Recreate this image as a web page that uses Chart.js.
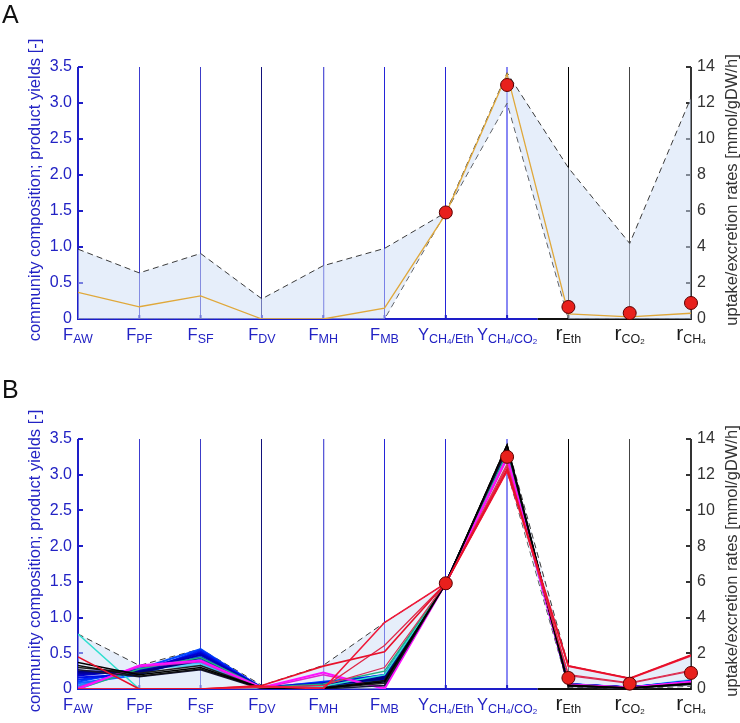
<!DOCTYPE html>
<html><head><meta charset="utf-8">
<script src="https://cdn.jsdelivr.net/npm/chart.js@4.4.1/dist/chart.umd.min.js"></script>
<style>
html,body{margin:0;padding:0;background:#fff;}
#wrap{position:relative;width:740px;height:723px;overflow:hidden;}
canvas{position:absolute;left:0;}
</style></head><body>
<div id="wrap">
<canvas id="cA" width="740" height="371" style="top:0px"></canvas>
<canvas id="cB" width="740" height="352" style="top:371px"></canvas>
</div>
<script>
// ---------- categories / tick labels ----------
const labelMain = ['F','F','F','F','F','F','Y','Y','r','r','r'];
const labelSub  = ['AW','PF','SF','DV','MH','MB','CH4/Eth','CH4/CO2','Eth','CO2','CH4'];
const leftTickLabels  = ['0','0.5','1.0','1.5','2.0','2.5','3.0','3.5'];
const rightTickLabels = ['0','2','4','6','8','10','12','14'];
const leftMax = 3.5, rightMax = 14;

// ---------- data (first 8 values dimensionless, last 3 in mmol/gDW/h) ----------
// Panel A
const upperA    = [0.97, 0.64, 0.91, 0.28, 0.74, 0.98, 1.48, 3.42, 8.4, 4.2, 12.3];
const lowerA    = [0, 0, 0, 0, 0, 0, 1.48, 3.00, 0, 0, 0];
const optimumA  = [0.37, 0.17, 0.32, 0, 0, 0.15, 1.46, 3.40, 0.28, 0.12, 0.32];
const measuredA = [null, null, null, null, null, null, 1.48, 3.25, 0.67, 0.33, 0.89];

// Panel B
const upperB    = [0.77, 0.33, 0.56, 0.05, 0.33, 0.93, 1.48, 3.43, 1.30, 0.60, 1.90];
const lowerB    = [0, 0, 0, 0, 0, 0, 1.48, 3.05, 0.10, 0.02, 0.15];
const measuredB = [null, null, null, null, null, null, 1.48, 3.25, 0.62, 0.30, 0.90];

const red1 = [0.45, 0, 0, 0.05, 0.32, 0.52, 1.48, 3.08, 1.30, 0.60, 1.90];
const red2 = [0, 0, 0, 0.04, 0.00, 0.93, 1.48, 3.05, 1.27, 0.58, 1.86];
const red3 = [0, 0, 0, 0.03, 0.02, 0.61, 1.48, 3.12, 0.80, 0.35, 1.05];
const red4 = [0, 0, 0, 0.02, 0.05, 0.30, 1.48, 3.15, 0.75, 0.32, 1.00];
const black1 = [0.37, 0.20, 0.30, 0.01, 0.01, 0.10, 1.48, 3.42, 0.20, 0.05, 0.30];
const black2 = [0.33, 0.18, 0.28, 0.01, 0.02, 0.12, 1.48, 3.41, 0.18, 0.05, 0.28];
const black3 = [0.30, 0.22, 0.33, 0.01, 0.01, 0.08, 1.48, 3.40, 0.22, 0.06, 0.32];
const black4 = [0.27, 0.17, 0.27, 0.00, 0.00, 0.05, 1.48, 3.38, 0.15, 0.04, 0.25];
const magenta1 = [0, 0.33, 0.40, 0.02, 0.23, 0.00, 1.48, 3.25, 0.25, 0.08, 0.40];
const magenta2 = [0.02, 0.31, 0.38, 0.01, 0.20, 0.02, 1.48, 3.22, 0.24, 0.08, 0.38];
const green1 = [0.00, 0.28, 0.44, 0.02, 0.07, 0.25, 1.48, 3.30, 0.25, 0.08, 0.36];
const cyan1  = [0.77, 0, 0, 0, 0.04, 0.20, 1.48, 3.28, 0.26, 0.09, 0.42];
const blue1  = [0.25, 0.24, 0.40, 0.02, 0.05, 0.15, 1.48, 3.36, 0.25, 0.08, 0.35];
const blue2  = [0.23, 0.22, 0.44, 0.01, 0.06, 0.17, 1.48, 3.35, 0.24, 0.07, 0.36];
const blue3  = [0.21, 0.25, 0.48, 0.02, 0.07, 0.14, 1.48, 3.34, 0.26, 0.08, 0.38];
const blue4  = [0.19, 0.27, 0.50, 0.01, 0.08, 0.18, 1.48, 3.33, 0.27, 0.09, 0.40];
const blue5  = [0.16, 0.21, 0.52, 0.01, 0.06, 0.20, 1.48, 3.32, 0.25, 0.08, 0.42];
const blue6  = [0.13, 0.23, 0.54, 0.02, 0.09, 0.16, 1.48, 3.31, 0.28, 0.09, 0.44];
const blue7  = [0.10, 0.28, 0.56, 0.01, 0.10, 0.19, 1.48, 3.30, 0.27, 0.10, 0.45];
const blue8  = [0.08, 0.20, 0.46, 0.02, 0.05, 0.12, 1.48, 3.30, 0.24, 0.08, 0.40];
const blue9  = [0.05, 0.26, 0.42, 0.01, 0.07, 0.14, 1.48, 3.28, 0.25, 0.08, 0.42];
const blue10 = [0.03, 0.30, 0.38, 0.01, 0.06, 0.16, 1.48, 3.27, 0.26, 0.09, 0.46];
const blue11 = [0.01, 0.32, 0.36, 0.01, 0.04, 0.10, 1.48, 3.26, 0.24, 0.08, 0.48];
const blue12 = [0.00, 0.29, 0.33, 0.00, 0.05, 0.12, 1.48, 3.25, 0.25, 0.09, 0.50];

// drawing order: first is on top
const linesB = [red1, red2, red3, red4, black1, black2, black3, black4, magenta1, magenta2,
                green1, cyan1, blue1, blue2, blue3, blue4, blue5, blue6, blue7, blue8, blue9, blue10, blue11, blue12];
const linesBColors = ['#e8102a','#f01838','#e02848','#d8305a','#000000','#101010','#202020','#181838','#ff10ff','#e020d0',
                      '#20b080','#30e0d0','#000080','#00009a','#0000b4','#0000d0','#0010e8','#0028f8','#0048ff','#1068ff','#2088ff','#30a8ff','#40c0f8','#50d0f0'];
const linesBWidths = [1.6,1.6,1.2,1.2,1.5,1.5,1.5,1.5,2,1.5,1.5,1.5,2,2,2,2,2,2,2,2,2,2,2,2];

// ---------- styling ----------
const FONT = '"Liberation Sans", Arial, Helvetica, sans-serif';
Chart.defaults.font.family = FONT;
const BLUE = '#1e1ec8';
const vLineColors = ['#1e1ec8','#3c3cd0','#3c3cc8','#12127a','#5a5ad8','#2424d8','#2424d8','#8888f4','#000000','#444444','#333333'];
const vLineWidths = [1,1,1,1,1.3,1,1,2,1,1,1];

const rateToLeft = leftMax / rightMax;
function toPlot(arr) {
  const out = [];
  arr.forEach((v, i) => { if (v !== null) out.push({x: i, y: (i >= 8 ? v * rateToLeft : v)}); });
  return out;
}

function line(ctx, x1, y1, x2, y2) { ctx.beginPath(); ctx.moveTo(x1, y1); ctx.lineTo(x2, y2); ctx.stroke(); }

const decor = {
  id: 'decor',
  beforeDatasetsDraw(chart) {
    const {ctx, chartArea: ca, scales} = chart;
    const xs = scales.x, yl = scales.y, yr = scales.y1;
    ctx.save();
    ctx.lineWidth = 2;
    ctx.strokeStyle = BLUE;
    line(ctx, ca.left, ca.top, ca.left, ca.bottom + 1);
    yl.ticks.forEach(t => { const y = Math.round(yl.getPixelForValue(t.value)); line(ctx, ca.left, y, ca.left + 5, y); });
    ctx.strokeStyle = '#333';
    line(ctx, ca.right, ca.top, ca.right, ca.bottom + 1);
    yr.ticks.forEach(t => { const y = Math.round(yr.getPixelForValue(t.value)); line(ctx, ca.right - 5, y, ca.right, y); });
    const split = (xs.getPixelForValue(7) + xs.getPixelForValue(8)) / 2;
    ctx.strokeStyle = BLUE;
    line(ctx, ca.left, ca.bottom, split, ca.bottom);
    ctx.strokeStyle = '#111';
    line(ctx, split, ca.bottom, ca.right, ca.bottom);
    for (let i = 1; i < 10; i++) {
      const x = xs.getPixelForValue(i);
      ctx.strokeStyle = i < 8 ? BLUE : '#111';
      line(ctx, x, ca.bottom, x, ca.bottom - 4);
    }
    ctx.restore();
  },
  afterDraw(chart, args, opts) {
    const {ctx, chartArea: ca, scales} = chart;
    const xs = scales.x;
    ctx.save();
    ctx.textAlign = 'left';
    ctx.textBaseline = 'alphabetic';
    // category labels with subscripts
    for (let i = 0; i < labelMain.length; i++) {
      const parts = [{t: labelMain[i], f: labelMain[i] === 'r' ? 21 : 16.5, dy: 21}];
      labelSub[i].match(/\d+|\D+/g).forEach(s => {
        parts.push(/\d/.test(s) ? {t: s, f: 8, dy: 25} : {t: s, f: 12.5, dy: 24});
      });
      let w = 0;
      parts.forEach(p => { ctx.font = p.f + 'px ' + FONT; p.w = ctx.measureText(p.t).width; w += p.w; });
      let cx = xs.getPixelForValue(i) - w / 2;
      ctx.fillStyle = i < 8 ? '#2222c4' : '#1a1a1a';
      parts.forEach(p => { ctx.font = p.f + 'px ' + FONT; ctx.fillText(p.t, cx, ca.bottom + p.dy); cx += p.w; });
    }
    // axis titles
    const midY = (ca.top + ca.bottom) / 2 - 3;
    ctx.textAlign = 'center';
    ctx.textBaseline = 'middle';
    ctx.font = '16.5px ' + FONT;
    ctx.fillStyle = '#2222c4';
    ctx.save(); ctx.translate(35, midY); ctx.rotate(-Math.PI / 2);
    ctx.fillText('community composition; product yields [-]', 0, 0); ctx.restore();
    ctx.fillStyle = '#333';
    ctx.save(); ctx.translate(732, midY); ctx.rotate(-Math.PI / 2);
    ctx.fillText('uptake/excretion rates [mmol/gDW/h]', 0, 0); ctx.restore();
    // panel letter
    ctx.textAlign = 'left';
    ctx.textBaseline = 'alphabetic';
    ctx.fillStyle = '#111';
    ctx.font = '25px ' + FONT;
    ctx.fillText(opts.letter, 2, opts.letterY);
    ctx.restore();
  }
};

function boundDatasets(upper, lower) {
  return [
    {data: toPlot(upper), borderColor: '#3a3a3a', borderWidth: 1, borderDash: [6, 4], pointRadius: 0,
     fill: '+1', backgroundColor: 'rgba(205,222,246,0.5)', tension: 0},
    {data: toPlot(lower), borderColor: '#3a3a3a', borderWidth: 1, borderDash: [6, 4], pointRadius: 0,
     fill: false, tension: 0}
  ];
}
function markerDataset(meas) {
  return {data: toPlot(meas), showLine: false, pointRadius: 6.5, pointBackgroundColor: '#e8201c',
          pointBorderColor: '#5a0000', pointBorderWidth: 1, borderColor: '#5a0000', backgroundColor: '#e8201c', clip: false};
}

function makeChart(id, datasets, top, bottomH, letter, letterY) {
  return new Chart(document.getElementById(id), {
    type: 'line',
    data: {datasets},
    plugins: [decor],
    options: {
      responsive: false, animation: false, devicePixelRatio: 1,
      layout: {padding: {top: top, left: 0, right: 0, bottom: 0}},
      plugins: {legend: {display: false}, tooltip: {enabled: false}, decor: {letter, letterY}},
      elements: {line: {tension: 0}},
      scales: {
        x: {type: 'linear', min: 0, max: 10, offset: false,
            ticks: {stepSize: 1, display: false},
            grid: {display: true, drawOnChartArea: true, drawTicks: false,
                   color: c => vLineColors[c.index] || '#000', lineWidth: c => vLineWidths[c.index] || 1},
            border: {display: false},
            afterFit: s => { s.height = bottomH; }},
        y: {type: 'linear', position: 'left', min: 0, max: leftMax,
            ticks: {stepSize: 0.5, padding: 6, color: '#2222c4', font: {size: 16},
                    callback: (v, i) => leftTickLabels[i]},
            grid: {display: false, drawTicks: false}, border: {display: false},
            afterFit: s => { s.width = 78; }},
        y1: {type: 'linear', position: 'right', min: 0, max: rightMax,
            ticks: {stepSize: 2, padding: 6, color: '#333', font: {size: 16},
                    callback: (v, i) => rightTickLabels[i]},
            grid: {display: false, drawTicks: false}, border: {display: false},
            afterFit: s => { s.width = 49; }}
      }
    }
  });
}

// Panel A
const dsA = [
  markerDataset(measuredA),
  {data: toPlot(optimumA), borderColor: '#e0a83a', borderWidth: 1.3, pointRadius: 0, fill: false},
  ...boundDatasets(upperA, lowerA)
];
makeChart('cA', dsA, 67, 52, 'A', 23);

// Panel B
const dsB = [markerDataset(measuredB)];
linesB.forEach((arr, k) => dsB.push({data: toPlot(arr), borderColor: linesBColors[k], borderWidth: linesBWidths[k], pointRadius: 0, fill: false}));
dsB.push(...boundDatasets(upperB, lowerB));
makeChart('cB', dsB, 68, 34, 'B', 27);
</script>
</body></html>
